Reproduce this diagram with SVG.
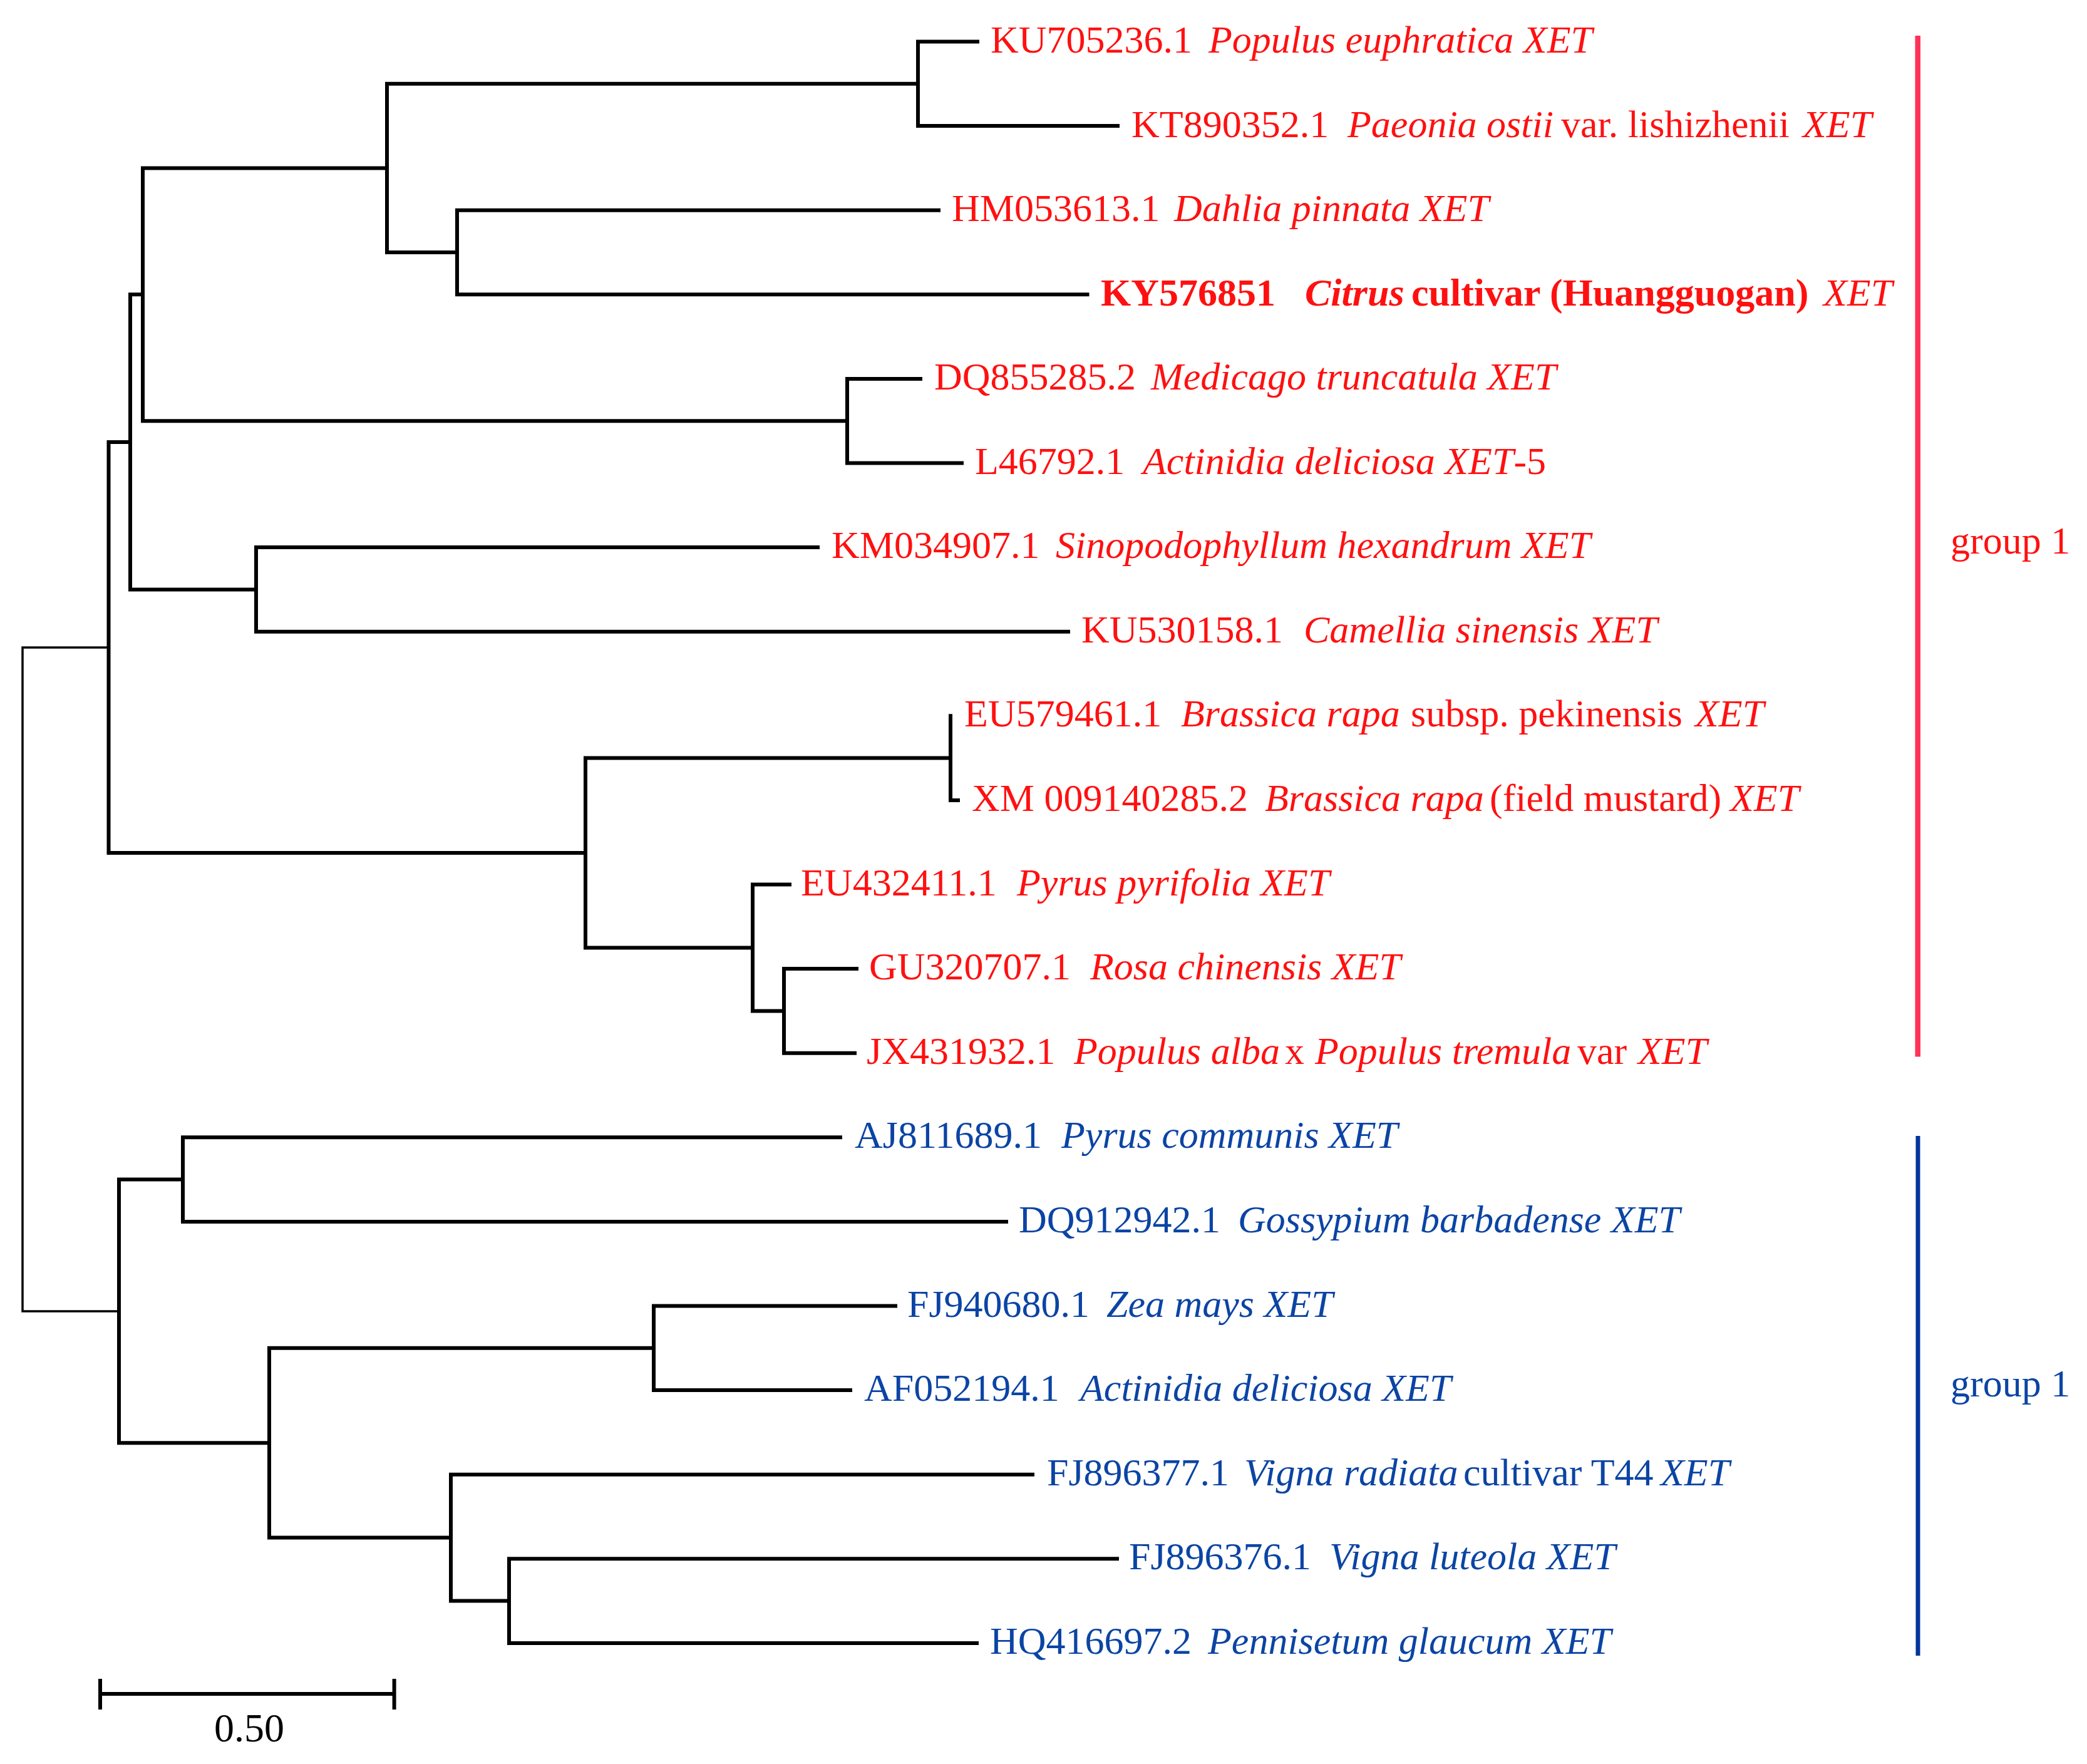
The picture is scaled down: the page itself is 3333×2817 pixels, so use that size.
<svg xmlns="http://www.w3.org/2000/svg" width="3333" height="2817" viewBox="0 0 3333 2817">
<style>
.br{fill:none;stroke:#000;stroke-width:6;stroke-linecap:square;stroke-linejoin:miter}
.rt{stroke-width:3.5}
text{font-family:"Liberation Serif","Times New Roman",serif;font-size:62px}
.r{fill:#ff1010}
.b{fill:#0b44a4}
.i{font-style:italic}
.bd{font-weight:bold}
.k{fill:#000}
</style>
<rect width="3333" height="2817" fill="#fff"/>
<g id="connectors">
<path class="br" d="M1561 66.5H1466V201.1H1785"/>
<path class="br" d="M1499 335.7H730V470.3H1736.5"/>
<path class="br" d="M1466 133.8H618V403H730"/>
<path class="br" d="M1470 604.9H1353V739.5H1536"/>
<path class="br" d="M618 268.4H228V672.2H1353"/>
<path class="br" d="M1306 874.1H409V1008.7H1706"/>
<path class="br" d="M228 470.3H208V941.4H409"/>
<path class="br" d="M1518 1143.3V1277.9H1530"/>
<path class="br" d="M1518 1210.6H935V1513.5H1202"/>
<path class="br" d="M1368 1547.1H1252V1681.7H1365"/>
<path class="br" d="M1261 1412.5H1202V1614.4H1252"/>
<path class="br" d="M208 705.9H173.5V1362H935"/>
<path class="br" d="M1342 1816.3H292V1950.9H1607"/>
<path class="br" d="M1430 2085.5H1044V2220.1H1358"/>
<path class="br" d="M1784 2489.3H813V2623.9H1560"/>
<path class="br" d="M1649 2354.7H720V2556.6H813"/>
<path class="br" d="M1044 2152.8H430V2455.6H720"/>
<path class="br" d="M292 1883.6H190V2304.2H430"/>
<path class="br rt" d="M173.5 1034H36V2093.9H190"/>
</g>
<g id="leaf1"><text class="r" y="84"><tspan x="1582">KU705236.1</tspan><tspan x="1930" class="i">Populus euphratica XET</tspan></text></g>
<g id="leaf2"><text class="r" y="218.5"><tspan x="1807">KT890352.1</tspan><tspan x="2152" class="i">Paeonia ostii</tspan><tspan x="2493">var. lishizhenii</tspan><tspan x="2879" class="i">XET</tspan></text></g>
<g id="leaf3"><text class="r" y="353"><tspan x="1520">HM053613.1</tspan><tspan x="1875" class="i">Dahlia pinnata XET</tspan></text></g>
<g id="leaf4"><text class="r" y="487.5"><tspan x="1758" class="bd">KY576851</tspan><tspan x="2084" class="bd i">Citrus</tspan><tspan x="2254" class="bd">cultivar (Huangguogan)</tspan><tspan x="2912" class="i">XET</tspan></text></g>
<g id="leaf5"><text class="r" y="622"><tspan x="1492">DQ855285.2</tspan><tspan x="1838" class="i">Medicago truncatula XET</tspan></text></g>
<g id="leaf6"><text class="r" y="756.5"><tspan x="1557">L46792.1</tspan><tspan x="1825" class="i">Actinidia deliciosa XET</tspan><tspan>-5</tspan></text></g>
<g id="leaf7"><text class="r" y="891"><tspan x="1328">KM034907.1</tspan><tspan x="1686" class="i">Sinopodophyllum hexandrum XET</tspan></text></g>
<g id="leaf8"><text class="r" y="1025.5"><tspan x="1727">KU530158.1</tspan><tspan x="2082" class="i">Camellia sinensis XET</tspan></text></g>
<g id="leaf9"><text class="r" y="1160"><tspan x="1540">EU579461.1</tspan><tspan x="1886" class="i">Brassica rapa</tspan><tspan x="2253">subsp. pekinensis</tspan><tspan x="2707" class="i">XET</tspan></text></g>
<g id="leaf10"><text class="r" y="1295"><tspan x="1552">XM 009140285.2</tspan><tspan x="2020" class="i">Brassica rapa</tspan><tspan x="2379">(field mustard)</tspan><tspan x="2763" class="i">XET</tspan></text></g>
<g id="leaf11"><text class="r" y="1429.5"><tspan x="1279">EU432411.1</tspan><tspan x="1624" class="i">Pyrus pyrifolia XET</tspan></text></g>
<g id="leaf12"><text class="r" y="1564"><tspan x="1388">GU320707.1</tspan><tspan x="1741" class="i">Rosa chinensis XET</tspan></text></g>
<g id="leaf13"><text class="r" y="1698.5"><tspan x="1384">JX431932.1</tspan><tspan x="1715" class="i">Populus alba</tspan><tspan x="2052">x</tspan><tspan x="2100" class="i">Populus tremula</tspan><tspan x="2519">var</tspan><tspan x="2616" class="i">XET</tspan></text></g>
<g id="leaf14"><text class="b" y="1833"><tspan x="1365">AJ811689.1</tspan><tspan x="1695" class="i">Pyrus communis XET</tspan></text></g>
<g id="leaf15"><text class="b" y="1968"><tspan x="1627">DQ912942.1</tspan><tspan x="1977" class="i">Gossypium barbadense XET</tspan></text></g>
<g id="leaf16"><text class="b" y="2102.5"><tspan x="1449">FJ940680.1</tspan><tspan x="1767" class="i">Zea mays XET</tspan></text></g>
<g id="leaf17"><text class="b" y="2237"><tspan x="1380">AF052194.1</tspan><tspan x="1725" class="i">Actinidia deliciosa XET</tspan></text></g>
<g id="leaf18"><text class="b" y="2371.5"><tspan x="1672">FJ896377.1</tspan><tspan x="1987" class="i">Vigna radiata</tspan><tspan x="2337">cultivar T44</tspan><tspan x="2652" class="i">XET</tspan></text></g>
<g id="leaf19"><text class="b" y="2506"><tspan x="1803">FJ896376.1</tspan><tspan x="2123" class="i">Vigna luteola XET</tspan></text></g>
<g id="leaf20"><text class="b" y="2641"><tspan x="1581">HQ416697.2</tspan><tspan x="1929" class="i">Pennisetum glaucum XET</tspan></text></g>
<g id="group-red">
<rect x="3058.5" y="57" width="8.5" height="1630.5" fill="#ff3358"/>
<text class="r" x="3115" y="884">group 1</text>
</g>
<g id="group-blue">
<rect x="3059.5" y="1814" width="7" height="830" fill="#00349c"/>
<text class="b" x="3115" y="2230">group 1</text>
</g>
<g id="scale-bar">
<path class="br" d="M160 2705H629.6M160 2681V2730M629.6 2681V2730" style="stroke-linecap:butt"/>
<text class="k" x="398" y="2781" text-anchor="middle" style="font-size:64px">0.50</text>
</g>
</svg>
